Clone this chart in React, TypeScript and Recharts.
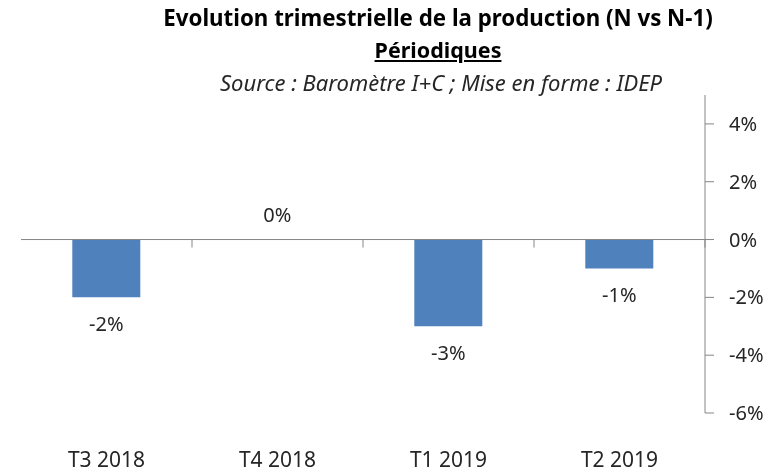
import { BarChart, Bar, XAxis, YAxis, ReferenceLine, LabelList } from 'recharts';

const quarters = ['T3 2018', 'T4 2018', 'T1 2019', 'T2 2019'];
const production = [-0.02, 0, -0.03, -0.01];
const yTicks = [-0.06, -0.04, -0.02, 0, 0.02, 0.04];

const data = quarters.map((q, i) => ({ quarter: q, value: production[i] }));

const FONT = '"Noto Sans", "Open Sans", sans-serif';
const AXIS = '#868686';
const TEXT = '#262626';

const pct = (v: number) => `${Math.round(v * 100)}%`;

// eslint-disable-next-line @typescript-eslint/no-explicit-any
function ValueLabel({ x, y, width, height, value }: any) {
  const top = Math.min(y, y + height);
  const bottom = Math.max(y, y + height);
  const cy = value < 0 ? bottom + 27 : top - 25;
  return (
    <text x={x + width / 2} y={cy} dy="0.35em" textAnchor="middle" fill={TEXT} fontSize={20} fontFamily={FONT}>
      {pct(value)}
    </text>
  );
}

// eslint-disable-next-line @typescript-eslint/no-explicit-any
function ZeroAxis(props: any) {
  const { x1, x2, y1 } = props;
  const step = (x2 - x1) / quarters.length;
  return (
    <g>
      <line x1={x1} x2={x2} y1={y1} y2={y1} stroke={AXIS} strokeWidth={1} />
      {quarters.map((q, i) => (
        <line key={q} x1={x1 + step * i} x2={x1 + step * i} y1={y1} y2={y1 + 8} stroke={AXIS} strokeWidth={1} />
      ))}
    </g>
  );
}

export default function App() {
  return (
    <div style={{ position: 'fixed', left: 0, top: 0, width: 774, height: 472, background: '#fff', fontFamily: FONT }}>
      <div style={{ position: 'absolute', left: 0, width: 876, top: 4, textAlign: 'center', fontWeight: 700, fontSize: 22.3, color: '#000', lineHeight: '28px' }}>
        Evolution trimestrielle de la production (N vs N-1)
      </div>
      <div style={{ position: 'absolute', left: 0, width: 876, top: 36, textAlign: 'center', fontWeight: 700, fontSize: 21.5, color: '#000', lineHeight: '28px', textDecoration: 'underline' }}>
        Périodiques
      </div>
      <div style={{ position: 'absolute', left: 0, width: 882, top: 68, textAlign: 'center', fontStyle: 'italic', fontSize: 22, color: TEXT, lineHeight: '28px' }}>
        Source : Baromètre I+C ; Mise en forme : IDEP
      </div>
      <BarChart
        width={774}
        height={472}
        data={data}
        margin={{ top: 95, right: 0, bottom: 0, left: 21 }}
        barCategoryGap="30%"
        style={{ position: 'absolute', left: 0, top: 0 }}
      >
        <XAxis
          dataKey="quarter"
          height={59}
          axisLine={false}
          tickLine={false}
          tickSize={0}
          tickMargin={39}
          tick={{ fill: TEXT, fontSize: 21, fontFamily: FONT }}
        />
        <YAxis
          orientation="right"
          width={69}
          domain={[-0.06, 0.05]}
          ticks={yTicks}
          tickFormatter={pct}
          axisLine={{ stroke: AXIS }}
          tickLine={{ stroke: AXIS }}
          tickSize={9}
          tickMargin={15}
          tick={{ fill: TEXT, fontSize: 20, fontFamily: FONT, textAnchor: 'start' }}
          allowDataOverflow
        />
        <ReferenceLine y={0} shape={<ZeroAxis />} />
        <Bar dataKey="value" fill="#4F81BD" minPointSize={0.01} isAnimationActive={false}>
          <LabelList dataKey="value" content={<ValueLabel />} />
        </Bar>
      </BarChart>
    </div>
  );
}
